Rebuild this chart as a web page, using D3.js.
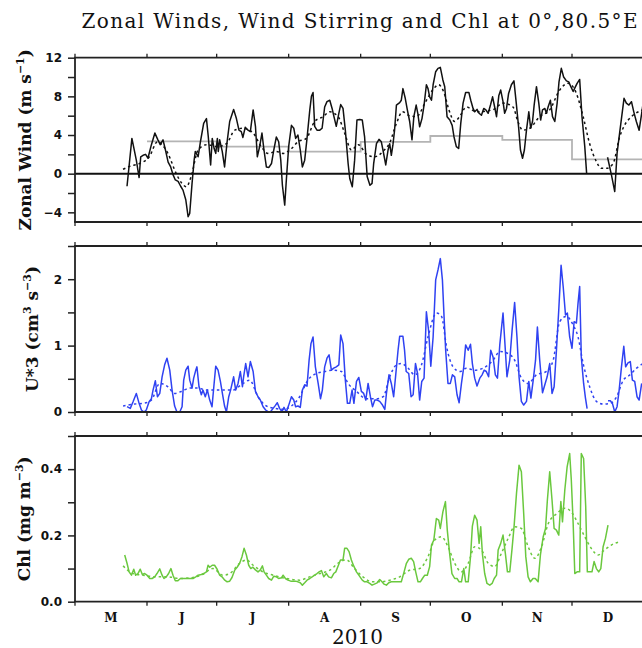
<!DOCTYPE html>
<html><head><meta charset="utf-8">
<script src="https://cdn.jsdelivr.net/npm/d3@7"></script>
<style>body{margin:0;background:#fff} svg text{white-space:pre}</style>
</head><body>
<svg id="c" width="642" height="648"></svg>
<script>
// ---------------- DATA (day = days after 1 May 2010) ----------------
const monthLabels = ["M","J","J","A","S","O","N","D"];
const yearLabel = "2010";
const titleText = "Zonal Winds, Wind Stirring and Chl at 0°,80.5°E";

const windTicks = [-4,0,4,8,12], windMinor = [-2,2,6,10];
const stirTicks = [0,1,2], stirMinor = [0.5,1.5,2.5];
const chlTicks = [0,0.2,0.4], chlMinor = [0.1,0.3,0.5];

// daily zonal wind (m/s) [day, value]; null = missing
const windObs = [[22.4,-1.3],[24.5,3.65],[26.4,1.4],[27.6,-0.4],[28.3,1.75],[29.3,1.9],[30.4,2.0],[31.4,1.6],[32.9,3.0],[34.4,4.2],[35.7,3.5],[36.7,3.0],[37.9,3.5],[39.0,2.4],[40.1,1.2],[41.2,0.7],[42.2,-0.1],[43.2,-0.65],[44.4,-0.8],[45.5,-1.3],[46.5,-1.7],[47.7,-2.7],[48.7,-4.45],[49.4,-4.1],[50.4,-1.0],[51.3,1.4],[51.8,2.3],[53.0,1.75],[54.0,3.3],[55.4,5.2],[56.6,5.7],[57.4,3.8],[58.4,0.9],[59.1,3.65],[59.9,2.6],[60.6,2.1],[61.3,3.65],[61.7,2.3],[62.3,3.5],[63.4,2.3],[64.4,0.7],[65.5,3.3],[66.6,5.4],[68.3,6.65],[69.5,5.7],[70.6,4.5],[71.6,4.35],[72.3,3.75],[73.3,4.8],[74.5,4.5],[75.5,4.35],[76.7,6.6],[77.7,4.9],[78.5,1.75],[79.5,2.8],[80.5,4.2],[81.4,2.4],[82.4,0.7],[83.5,0.65],[84.6,1.05],[85.6,2.45],[86.7,3.8],[87.7,3.3],[88.6,1.4],[89.3,-1.2],[90.3,-3.25],[91.0,-0.65],[92.0,2.8],[93.2,5.0],[94.2,4.7],[95.0,3.65],[96.0,4.0],[97.0,2.45],[97.9,0.7],[98.9,1.4],[99.9,3.65],[101.1,6.6],[101.8,8.0],[102.5,8.4],[103.2,4.9],[104.2,4.5],[105.4,4.5],[106.4,4.7],[107.5,6.9],[108.5,7.45],[109.7,7.6],[110.7,6.75],[111.5,5.9],[112.5,4.9],[113.6,6.25],[114.4,7.15],[115.4,6.75],[116.4,4.5],[117.6,1.05],[118.3,-0.5],[119.4,-1.35],[120.4,1.4],[121.4,5.55],[122.6,5.6],[123.7,5.55],[124.7,3.8],[125.8,-0.3],[127.0,-1.2],[127.9,-1.0],[128.6,1.05],[129.8,3.1],[130.9,3.55],[131.9,3.3],[132.6,2.45],[133.8,0.9],[134.8,2.45],[135.5,3.1],[136.2,1.9],[136.9,3.0],[137.6,4.5],[138.4,7.1],[139.8,7.35],[140.5,7.6],[141.2,8.8],[142.2,7.8],[143.1,6.6],[144.1,5.4],[145.1,3.5],[145.9,5.9],[146.9,7.1],[147.6,6.25],[148.4,4.85],[149.4,5.7],[150.3,7.1],[151.3,9.2],[152.0,8.8],[152.7,7.95],[153.5,7.6],[154.2,9.2],[155.3,10.55],[156.3,10.9],[157.3,11.0],[158.4,9.7],[159.2,9.0],[160.2,5.9],[161.4,5.55],[162.4,5.0],[163.2,3.8],[164.2,2.8],[165.2,2.6],[166.1,5.2],[167.1,7.3],[168.2,8.4],[169.6,8.4],[170.4,7.6],[171.4,6.75],[172.1,6.4],[173.1,6.65],[174.0,6.25],[175.0,6.05],[176.0,6.75],[176.9,6.6],[177.9,6.25],[178.9,7.1],[179.8,7.95],[180.7,6.9],[181.5,5.9],[182.5,8.1],[183.3,8.65],[184.3,7.45],[185.0,6.25],[185.8,6.75],[186.7,8.3],[187.9,9.2],[189.0,9.6],[190.0,7.3],[191.0,4.85],[191.8,2.45],[192.7,1.6],[193.5,2.45],[194.4,4.5],[195.4,6.4],[196.2,4.7],[197.0,5.4],[197.7,7.1],[198.7,9.0],[199.7,7.3],[200.5,5.55],[201.3,6.6],[202.3,6.75],[203.0,6.25],[203.7,6.9],[204.7,7.6],[205.6,5.9],[206.6,5.4],[207.6,7.3],[208.4,9.5],[209.4,10.9],[210.4,10.0],[211.6,9.6],[212.6,9.5],[213.5,9.0],[214.5,8.5],[215.5,9.0],[216.2,9.35],[217.3,9.75],[218.3,5.9],[219.5,2.8],[220.3,0],[225,null],[229.3,1.7],[231.0,-0.15],[232.4,-1.85],[233.4,2.1],[234.5,4.2],[236.4,7.8],[237.4,7.3],[238.5,7.1],[239.6,7.45],[240.6,6.4],[241.7,5.4],[242.9,4.5],[244.0,6.25],[244.8,7.6]];

const windMean = [[20.7,0.45],[24,0.8],[27.8,1.05],[32,1.75],[35.5,3.3],[37.5,3.0],[40,2.1],[43.6,0.0],[46,-1.0],[48,-1.35],[50,-0.3],[53,2.45],[56.6,3.0],[61,2.8],[65.2,3.1],[68.8,4.5],[72.4,4.7],[76.7,4.2],[80.2,2.8],[83.1,2.1],[86.7,2.3],[89.6,2.1],[93.2,2.6],[96,3.3],[99.6,3.65],[103.2,5.4],[106.8,5.9],[109.7,6.4],[113.3,5.9],[116.1,4.2],[119,2.45],[122,3.0],[125.5,2.0],[129,1.75],[133,2.4],[135.5,3.2],[138.4,5.2],[141,6.4],[144,6.0],[147,5.9],[151,7.45],[154,8.65],[156.6,9.2],[159,8.3],[161,6.6],[163.5,5.4],[165.6,5.9],[168.5,6.9],[172.9,6.4],[179.8,6.6],[184.3,7.3],[188.6,6.9],[190.7,5.4],[192.8,4.5],[195.8,4.7],[200,5.9],[204.4,6.6],[208.7,8.65],[212.3,9.35],[215.9,8.3],[218.8,5.9],[221.6,3.1],[224.5,1.25],[226.7,0.55],[228.8,0.55],[231.7,1.05],[234.5,3.8],[236.6,5.0],[239.6,5.9],[244.5,6.6]];

// monthly mean zonal wind, June .. December
const windMonthly = [3.35, 2.8, 2.28, 3.3, 3.9, 3.5, 1.48];

// wind stirring U*^3 (cm3 s-3)
const stirObs = [[22.4,0.08],[23.8,0.055],[25.0,0.155],[26.4,0.28],[27.6,0.13],[28.6,0.03],[29.7,0.0],[30.7,0.03],[31.9,0.155],[32.9,0.2],[33.6,0.33],[34.6,0.47],[35.5,0.23],[36.5,0.28],[37.5,0.53],[38.6,0.71],[39.6,0.81],[40.8,0.63],[41.8,0.33],[42.9,0.09],[43.9,0.0],[45.1,0.0],[46.1,0.08],[46.8,0.48],[47.7,0.63],[48.7,0.69],[49.4,0.48],[50.4,0.36],[51.1,0.51],[52.0,0.63],[52.5,0.68],[53.4,0.38],[54.4,0.26],[55.1,0.33],[56.1,0.23],[57.0,0.33],[58.0,0.18],[59.0,0.08],[59.9,0.43],[60.6,0.69],[61.6,0.63],[62.6,0.46],[63.7,0.23],[64.4,0.09],[65.2,0.0],[66.2,0.23],[67.0,0.33],[68.3,0.53],[69.2,0.33],[70.2,0.43],[71.2,0.61],[72.1,0.38],[72.6,0.53],[73.5,0.73],[74.5,0.53],[75.5,0.76],[76.7,0.61],[77.7,0.31],[78.8,0.23],[79.8,0.18],[81.0,0.08],[82.1,0.03],[83.1,0.005],[84.1,0.0],[85.3,0.055],[86.3,0.1],[87.1,0.14],[88.1,0.055],[89.1,0.005],[90.0,0.07],[91.0,0.0],[92.0,0.1],[93.2,0.23],[94.2,0.18],[95.0,0.08],[96.0,0.09],[97.0,0.07],[97.9,0.33],[98.9,0.41],[99.9,0.39],[100.8,0.78],[101.6,1.03],[102.5,1.13],[103.5,0.68],[104.7,0.43],[105.7,0.2],[106.5,0.33],[107.5,0.68],[108.5,0.81],[109.4,0.86],[110.4,0.63],[111.4,0.66],[112.5,0.68],[113.6,0.71],[114.4,1.16],[115.4,1.03],[116.4,0.48],[117.3,0.13],[118.3,0.13],[119.3,0.33],[120.1,0.13],[121.2,0.46],[122.2,0.52],[123.3,0.31],[124.3,0.28],[125.2,0.18],[126.2,0.43],[127.2,0.23],[128.1,0.08],[129.1,0.18],[130.1,0.18],[131.2,0.16],[132.4,0.105],[133.4,0.04],[134.1,0.28],[135.2,0.56],[136.2,0.43],[137.2,0.23],[138.1,0.56],[139.1,0.93],[139.8,1.14],[141.2,1.14],[141.9,0.93],[142.6,0.61],[143.7,0.58],[144.7,0.23],[145.6,0.26],[146.6,0.73],[147.5,0.58],[148.4,0.18],[149.3,0.46],[150.3,0.51],[151.3,1.51],[152.3,1.21],[153.2,0.69],[154.2,1.13],[155.3,1.99],[156.3,2.14],[157.3,2.31],[158.2,1.99],[158.9,1.44],[159.6,0.93],[160.6,0.43],[161.6,0.43],[162.5,0.56],[163.5,0.53],[164.5,0.26],[165.4,0.14],[166.4,0.43],[167.4,0.68],[168.2,1.01],[169.3,0.93],[170.3,1.02],[171.1,0.73],[172.1,0.51],[173.1,0.39],[174.3,0.51],[175.3,0.56],[176.2,0.63],[177.1,0.61],[178.1,0.53],[179.0,0.93],[180.0,0.83],[181.0,0.56],[181.9,0.51],[182.9,1.01],[184.3,1.49],[185.3,0.93],[186.0,0.53],[187.2,0.78],[188.2,1.23],[189.3,1.65],[190.3,1.13],[191.2,0.53],[192.2,0.16],[193.2,0.105],[194.4,0.16],[195.4,0.46],[196.3,0.21],[197.3,0.48],[198.3,0.78],[199.1,1.28],[200.1,0.78],[201.3,0.29],[202.3,0.41],[203.3,0.53],[204.4,0.73],[205.4,0.28],[206.3,0.38],[207.3,0.93],[208.3,1.54],[209.3,2.21],[210.2,1.89],[211.2,1.46],[212.0,1.49],[213.0,1.13],[214.0,0.96],[214.9,1.36],[215.9,1.34],[216.6,1.64],[217.3,1.89],[218.0,0.83],[219.0,0.43],[219.8,0.21],[220.5,0.05],[225,null],[229.5,0.17],[230.5,0.17],[231.4,0.13],[232.4,0.0],[233.4,0.08],[234.3,0.33],[235.3,0.68],[236.3,0.99],[237.1,0.68],[238.1,0.74],[239.1,0.76],[240.0,0.48],[241.0,0.46],[242.0,0.23],[242.9,0.18],[244.0,0.43]];

const stirMean = [[20.7,0.09],[25.7,0.12],[29.3,0.13],[32.9,0.18],[36.5,0.43],[40,0.38],[42.9,0.28],[45.8,0.31],[49.4,0.36],[53,0.36],[56.6,0.33],[60.9,0.33],[64.4,0.33],[68,0.33],[71.6,0.41],[75.2,0.48],[78.8,0.23],[82.4,0.09],[86,0.055],[89.6,0.04],[93.2,0.09],[96.7,0.23],[100.3,0.48],[103.9,0.58],[107.5,0.61],[111.1,0.63],[114.7,0.61],[117.6,0.43],[121.2,0.31],[125.5,0.2],[129.8,0.2],[132.7,0.23],[135.5,0.53],[138.4,0.71],[140.5,0.73],[143.4,0.66],[146.3,0.56],[149.2,0.71],[152,1.13],[155.6,1.49],[157.8,1.44],[160,0.98],[162.8,0.68],[165.7,0.61],[168.5,0.66],[172.1,0.63],[175.7,0.66],[180,0.78],[182.9,0.91],[186.5,0.88],[189.3,0.78],[192.2,0.51],[195.1,0.43],[198.7,0.56],[203,0.61],[205.9,0.78],[208.7,1.36],[211.6,1.44],[214.5,1.31],[216.6,1.13],[218.8,0.73],[221.6,0.38],[224.5,0.16],[227.4,0.12],[230.4,0.13],[233.2,0.23],[236.1,0.48],[239,0.56],[241.8,0.66],[244.5,0.73]];

// chlorophyll (mg m-3)
const chlObs = [[21.4,0.141],[22.4,0.116],[23.3,0.09],[24.3,0.08],[25.3,0.098],[26.1,0.08],[27.1,0.085],[28.1,0.098],[29.0,0.082],[30.0,0.085],[31.0,0.08],[32.2,0.07],[33.2,0.07],[34.3,0.075],[35.3,0.085],[36.5,0.099],[37.5,0.08],[38.3,0.07],[39.3,0.075],[40.3,0.085],[41.3,0.1],[42.2,0.08],[43.2,0.063],[44.2,0.063],[45.4,0.07],[50.8,0.07],[52.0,0.075],[53.0,0.08],[54.4,0.082],[55.4,0.085],[56.6,0.09],[57.3,0.11],[58.0,0.104],[59.1,0.11],[60.1,0.11],[61.2,0.098],[62.3,0.08],[63.3,0.075],[64.5,0.065],[65.5,0.06],[66.6,0.062],[67.6,0.073],[68.8,0.096],[69.8,0.104],[70.9,0.116],[71.9,0.136],[72.8,0.161],[73.8,0.141],[74.8,0.11],[75.7,0.1],[76.6,0.104],[77.7,0.096],[78.8,0.09],[79.8,0.096],[80.7,0.108],[81.4,0.09],[82.4,0.08],[83.4,0.07],[84.6,0.065],[85.6,0.077],[86.7,0.075],[87.7,0.07],[88.9,0.072],[89.6,0.08],[90.6,0.07],[91.7,0.065],[92.9,0.062],[95.0,0.062],[96.0,0.06],[97.0,0.057],[97.9,0.05],[98.9,0.057],[99.9,0.065],[101.1,0.07],[102.1,0.075],[103.2,0.08],[104.2,0.085],[105.1,0.09],[106.1,0.094],[107.1,0.075],[108.2,0.085],[109.2,0.075],[110.4,0.072],[111.4,0.085],[112.3,0.09],[113.3,0.108],[114.3,0.126],[115.4,0.126],[116.1,0.161],[117.1,0.161],[118.0,0.151],[119.0,0.126],[120.0,0.108],[121.2,0.09],[122.2,0.08],[123.7,0.065],[124.7,0.06],[125.8,0.06],[126.9,0.055],[127.9,0.05],[128.9,0.053],[130.1,0.057],[131.2,0.067],[132.2,0.06],[133.1,0.053],[134.1,0.05],[135.1,0.057],[136.2,0.06],[140.5,0.06],[141.7,0.09],[142.7,0.116],[143.7,0.128],[144.8,0.131],[145.8,0.121],[146.7,0.09],[147.7,0.06],[148.7,0.06],[149.6,0.07],[150.6,0.08],[151.7,0.08],[152.7,0.106],[153.5,0.171],[154.5,0.186],[155.6,0.251],[156.6,0.246],[157.3,0.221],[158.4,0.271],[159.5,0.302],[160.3,0.216],[161.3,0.146],[162.3,0.085],[163.5,0.07],[164.5,0.07],[165.4,0.06],[166.4,0.06],[167.4,0.1],[168.2,0.06],[169.3,0.06],[170.3,0.136],[171.1,0.228],[172.1,0.261],[173.1,0.246],[174.0,0.176],[174.7,0.226],[175.4,0.146],[176.4,0.085],[177.4,0.055],[178.6,0.05],[179.6,0.055],[180.5,0.07],[181.5,0.08],[182.2,0.156],[183.3,0.176],[184.3,0.201],[185.3,0.146],[186.2,0.09],[187.2,0.09],[188.2,0.161],[189.1,0.231],[190.1,0.327],[191.2,0.412],[192.2,0.392],[193.2,0.266],[194.1,0.136],[195.1,0.075],[196.1,0.06],[197.2,0.07],[198.2,0.07],[199.4,0.06],[200.4,0.141],[201.6,0.196],[202.6,0.221],[203.4,0.307],[204.4,0.392],[205.4,0.307],[206.3,0.221],[207.3,0.216],[208.3,0.201],[209.2,0.302],[209.9,0.241],[210.9,0.337],[211.9,0.407],[213.0,0.447],[213.7,0.367],[214.5,0.236],[215.2,0.085],[216.2,0.09],[217.3,0.09],[218.0,0.447],[219.0,0.432],[219.9,0.287],[220.6,0.09],[221.6,0.09],[222.6,0.09],[223.5,0.121],[224.5,0.1],[225.5,0.09],[226.4,0.1],[227.4,0.166],[228.4,0.191],[229.5,0.231]];

const chlMean = [[20.7,0.108],[25,0.085],[29.3,0.08],[35,0.075],[40,0.075],[45,0.07],[50.8,0.073],[55.1,0.083],[59.4,0.1],[63.7,0.08],[66.6,0.085],[70.9,0.116],[73.8,0.126],[76.7,0.11],[81,0.09],[85.3,0.08],[91,0.07],[96.7,0.065],[101,0.075],[105.4,0.085],[109.7,0.095],[114,0.12],[116.9,0.126],[120.4,0.1],[124,0.075],[128,0.06],[132,0.06],[135.5,0.065],[139.8,0.075],[144.1,0.095],[148.4,0.1],[152,0.136],[154.9,0.186],[157.8,0.196],[160.6,0.166],[163.5,0.116],[166.4,0.09],[169.3,0.116],[172.1,0.166],[175,0.156],[177.9,0.116],[180.7,0.106],[183.6,0.146],[186.5,0.191],[189.3,0.226],[192.2,0.221],[195.1,0.166],[198,0.131],[200.9,0.166],[203.8,0.236],[207.5,0.266],[210.9,0.282],[213.7,0.271],[216.6,0.236],[219.5,0.196],[222.3,0.161],[225.2,0.141],[228,0.156],[230.9,0.171],[234.5,0.181]];

// ---------------- DRAWING ----------------
const svg = d3.select("#c");
const t0 = new Date(Date.UTC(2010,4,1)), t1 = new Date(Date.UTC(2011,0,1));
const toDate = d => new Date(t0.getTime() + d*864e5);
const L = 75, R = 644;
const x = d3.scaleUtc().domain([t0, t1]).range([L, R]);

const BLACK = "#111", BLUE = "#2f42f2", GREEN = "#6ac83e", GRAY = "#b4b4b4";

const panels = [
  {top:57.7, bottom:222, dom:[-5,12], major:windTicks, minor:windMinor, fmt:d3.format("d"),
   label:[["Zonal Wind (m s"],["−1",1],[")"]], lx:31,
   series:[{data:windMean, color:BLACK, dash:"2.5,3", curve:d3.curveMonotoneX},
           {data:windObs, color:BLACK, curve:d3.curveLinear}], zero:true, monthly:windMonthly},
  {top:246, bottom:412, dom:[0,2.5], major:stirTicks, minor:stirMinor, fmt:d3.format("d"),
   label:[["U*3 (cm"],["3",1],[" s"],["−3",1],[")"]], lx:38,
   series:[{data:stirMean, color:BLUE, dash:"2.5,3", curve:d3.curveMonotoneX},
           {data:stirObs, color:BLUE, curve:d3.curveLinear}]},
  {top:436, bottom:601.7, dom:[0,0.5], major:chlTicks, minor:chlMinor, fmt:d3.format(".1f"),
   label:[["Chl (mg m"],["−3",1],[")"]], lx:30,
   series:[{data:chlMean, color:GREEN, dash:"2.5,3", curve:d3.curveMonotoneX},
           {data:chlObs, color:GREEN, curve:d3.curveLinear}]}
];

const months = d3.utcMonths(t0, t1);

panels.forEach((p, i) => {
  const y = d3.scaleLinear().domain(p.dom).range([p.bottom, p.top]);
  const g = svg.append("g");
  const cid = "clip" + i;
  svg.append("clipPath").attr("id", cid).append("rect")
     .attr("x", L).attr("y", p.top).attr("width", R - L).attr("height", p.bottom - p.top);
  const plot = g.append("g").attr("clip-path", `url(#${cid})`);

  if (p.monthly) {
    const steps = p.monthly.map((v, k) => [d3.utcMonth.offset(months[1], k), v]);
    steps.push([t1, p.monthly[p.monthly.length - 1]]);
    plot.append("path").datum(steps)
      .attr("d", d3.line().x(d => x(d[0])).y(d => y(d[1])).curve(d3.curveStepAfter))
      .attr("fill", "none").attr("stroke", GRAY).attr("stroke-width", 1.8);
  }
  if (p.zero) {
    plot.append("line").attr("x1", L).attr("x2", R).attr("y1", y(0)).attr("y2", y(0))
      .attr("stroke", BLACK).attr("stroke-width", 2);
  }
  p.series.forEach(s => {
    plot.append("path").datum(s.data)
      .attr("d", d3.line().defined(d => d[1] !== null)
        .x(d => x(toDate(d[0]))).y(d => y(d[1])).curve(s.curve))
      .attr("fill", "none").attr("stroke", s.color).attr("stroke-width", 1.5)
      .attr("stroke-dasharray", s.dash || null).attr("stroke-linejoin", "round");
  });

  // frame
  const fr = g.append("g").attr("stroke", "#222").attr("stroke-width", 1.8);
  fr.append("line").attr("x1", L - 0.9).attr("x2", R).attr("y1", p.top).attr("y2", p.top);
  fr.append("line").attr("x1", L - 0.9).attr("x2", R).attr("y1", p.bottom).attr("y2", p.bottom);
  fr.append("line").attr("x1", L).attr("x2", L).attr("y1", p.top).attr("y2", p.bottom);
  // month ticks (outward)
  months.forEach(m => {
    fr.append("line").attr("x1", x(m)).attr("x2", x(m)).attr("y1", p.top).attr("y2", p.top - 4).attr("stroke-width", 1.3);
    fr.append("line").attr("x1", x(m)).attr("x2", x(m)).attr("y1", p.bottom).attr("y2", p.bottom + 4).attr("stroke-width", 1.3);
  });

  // y axis
  const all = p.major.concat(p.minor);
  const ax = g.append("g").attr("transform", `translate(${L},0)`)
    .call(d3.axisLeft(y).tickValues(all).tickSize(7).tickPadding(6)
      .tickFormat(v => p.major.includes(v) ? p.fmt(v) : ""));
  ax.select(".domain").remove();
  ax.selectAll(".tick line").attr("stroke", "#222").attr("stroke-width", 1.5);
  ax.selectAll(".tick text").attr("font-family", "DejaVu Sans").attr("font-weight", "bold")
    .attr("font-size", 12).attr("fill", "#111");

  // y label
  const cy = (p.top + p.bottom) / 2;
  const txt = svg.append("text").attr("transform", `translate(${p.lx},${cy}) rotate(-90)`)
    .attr("text-anchor", "middle").attr("font-family", "DejaVu Serif").attr("font-weight", "bold")
    .attr("font-size", 17).attr("fill", "#111");
  let raised = false;
  p.label.forEach(([s, sup]) => {
    const ts = txt.append("tspan").text(s);
    if (sup && !raised) { ts.attr("font-size", 11).attr("dy", -7); raised = true; }
    else if (!sup && raised) { ts.attr("dy", 7); raised = false; }
    else if (sup) ts.attr("font-size", 11);
  });
});

// month labels at mid-month
months.forEach((m, k) => {
  const mid = new Date((m.getTime() + d3.utcMonth.offset(m, 1).getTime()) / 2);
  svg.append("text").attr("x", x(mid)).attr("y", 621.5).attr("text-anchor", "middle")
    .attr("font-family", "DejaVu Serif").attr("font-weight", "bold").attr("font-size", 12)
    .attr("fill", "#111").text(monthLabels[k]);
});
svg.append("text").attr("x", (L + R) / 2 - 2).attr("y", 644).attr("text-anchor", "middle")
  .attr("font-family", "DejaVu Serif").attr("font-size", 20).attr("fill", "#111").text(yearLabel);

// title
svg.append("text").attr("x", (L + R) / 2).attr("y", 28).attr("text-anchor", "middle")
  .attr("font-family", "DejaVu Serif").attr("font-size", 20).attr("fill", "#111")
  .attr("textLength", 556).attr("lengthAdjust", "spacing").text(titleText);
</script>
</body></html>
